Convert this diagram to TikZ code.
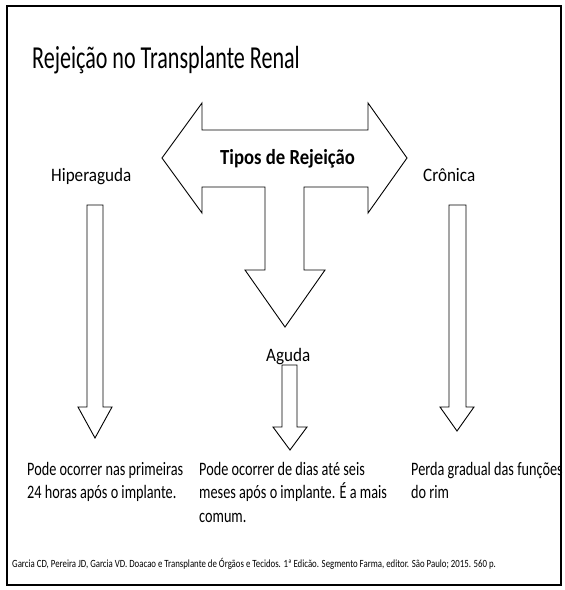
\documentclass[tikz,border=0pt]{standalone}
\usepackage{fontspec}
\setmainfont{Carlito}
\newfontfamily\bodyf[FakeStretch=0.75]{Carlito}
\newfontfamily\labelf[FakeStretch=0.9]{Carlito}
\newfontfamily\boldf[FakeStretch=0.87]{Carlito}
\newfontfamily\titlef[FakeStretch=0.69]{Carlito}
\newfontfamily\citef[FakeStretch=0.8]{Carlito}
\begin{document}
\begin{tikzpicture}[x=1pt,y=-1pt,
  shapeline/.style={draw=black,line width=0.9pt,fill=white,line join=miter},
  bodytext/.style={anchor=base west,inner sep=0pt,font=\bodyf\fontsize{19}{23}\selectfont},
  labeltext/.style={anchor=base west,inner sep=0pt,font=\labelf\fontsize{19}{23}\selectfont},
  titletext/.style={anchor=base west,inner sep=0pt,font=\titlef\fontsize{32}{36}\selectfont},
  boldtext/.style={anchor=base west,inner sep=0pt,font=\boldf\bfseries\fontsize{21.5}{25}\selectfont},
  citetext/.style={anchor=base west,inner sep=0pt,font=\citef\fontsize{11}{13}\selectfont}]
\useasboundingbox (0,0) rectangle (565,590);
\fill[white] (0,0) rectangle (565,590);
% frame
\draw[line width=2.4pt] (7,6) rectangle (561,585);
% title
\node[titletext] (title) at (32,68) {Rejeição no Transplante Renal};
% T-shaped arrow
\draw[shapeline] (162,158) -- (202,103) -- (202,130) -- (368,130) -- (368,103)
  -- (407,158) -- (368,213) -- (368,187) -- (304,187) -- (304,270) -- (325,270)
  -- (285,327) -- (245,270) -- (265,270) -- (265,187) -- (202,187) -- (202,213) -- cycle;
\node[boldtext] (tipos) at (220,164) {Tipos de Rejeição};
% labels
\node[labeltext] (hiper) at (51,181) {Hiperaguda};
\node[labeltext] (cron) at (423,181) {Crônica};
\node[labeltext] (aguda) at (266,361) {Aguda};
% down arrows
\draw[shapeline] (87,205) -- (103,205) -- (103,407) -- (112,407) -- (95,438) -- (78,407) -- (87,407) -- cycle;
\draw[shapeline] (449,205) -- (466,205) -- (466,407) -- (474,407) -- (457,431) -- (440,407) -- (449,407) -- cycle;
\draw[shapeline] (282,365) -- (297,365) -- (297,427) -- (307,427) -- (290,450) -- (273,427) -- (282,427) -- cycle;
% descriptions
\node[bodytext] (d1a) at (27,475) {Pode ocorrer nas primeiras};
\node[bodytext] (d1b) at (27,498) {24 horas após o implante.};
\node[bodytext] (d2a) at (199,475) {Pode ocorrer de dias até seis};
\node[bodytext] (d2b) at (199,498) {meses após o implante. É a mais};
\node[bodytext] (d2c) at (199,522) {comum.};
\node[bodytext] (d3a) at (411,475) {Perda gradual das funções};
\node[bodytext] (d3b) at (411,498) {do rim};
% citation
\node[citetext] (cite) at (12,567) {Garcia CD, Pereira JD, Garcia VD. Doacao e Transplante de Órgãos e Tecidos. 1ª Edicão. Segmento Farma, editor. São Paulo; 2015. 560 p.};
\end{tikzpicture}
\end{document}
